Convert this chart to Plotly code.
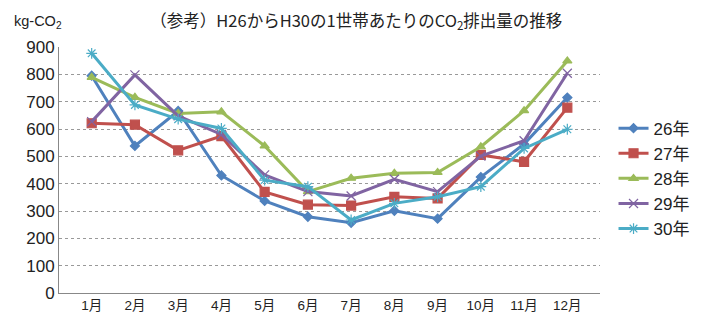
import plotly.graph_objects as go

months = ["1月", "2月", "3月", "4月", "5月", "6月", "7月", "8月", "9月", "10月", "11月", "12月"]
series_names = ["26年", "27年", "28年", "29年", "30年"]
h26 = [795, 538, 666, 430, 337, 279, 257, 301, 272, 424, 545, 715]
h27 = [621, 616, 522, 574, 370, 323, 320, 352, 346, 505, 480, 678]
h28 = [789, 716, 657, 663, 538, 371, 420, 438, 441, 535, 667, 849]
h29 = [627, 798, 648, 580, 432, 371, 355, 416, 371, 501, 557, 804]
h30 = [877, 688, 636, 602, 413, 389, 267, 328, 352, 389, 529, 599]
y_ticks = [0, 100, 200, 300, 400, 500, 600, 700, 800, 900]

colors = ["#4F81BD", "#C0504D", "#9BBB59", "#8064A2", "#4BACC6"]
symbols = ["diamond", "square", "triangle-up", "x-thin-open", "asterisk-open"]
sizes = [7, 9, 8, 9, 9]
all_vals = [h26, h27, h28, h29, h30]

FONT = "Noto Sans CJK JP"
NUMFONT = "Liberation Sans, Noto Sans CJK JP"
fig = go.Figure()
for i, (name, vals) in enumerate(zip(series_names, all_vals)):
    fig.add_trace(go.Scatter(
        x=months, y=vals, name=name, mode="lines+markers",
        line=dict(color=colors[i], width=3),
        marker=dict(symbol=symbols[i], size=sizes[i], color=colors[i],
                    line=dict(color=colors[i], width=1.2)),
    ))

fig.update_layout(
    width=707, height=327,
    margin=dict(l=59, r=104, t=47, b=34),
    paper_bgcolor="white", plot_bgcolor="white",
    font=dict(family=FONT, size=15, color="#222"),
    title=dict(text="（参考）H26からH30の1世帯あたりのCO<sub>2</sub>排出量の推移",
               x=0.504, xanchor="center", y=0.935, yanchor="middle",
               font=dict(size=16.5, family=FONT, color="#222")),
    showlegend=True,
    legend=dict(x=1.025, xanchor="left", y=0.465, yanchor="middle",
                font=dict(size=17, family=NUMFONT), tracegroupgap=0,
                bgcolor="rgba(0,0,0,0)"),
    annotations=[dict(text="kg-CO<sub>2</sub>", xref="paper", yref="paper",
                      x=-0.086, y=1.055, xanchor="left", yanchor="bottom",
                      showarrow=False, font=dict(size=14.5, family=NUMFONT))],
)
fig.update_xaxes(showgrid=False, showline=True, linecolor="#888", linewidth=1,
                 ticks="", tickfont=dict(size=13.5, family=NUMFONT), type="category")
fig.update_yaxes(range=[0, 900], tickvals=y_ticks, showgrid=True,
                 gridcolor="#999", griddash="dot", gridwidth=1,
                 showline=True, linecolor="#888", linewidth=1,
                 zeroline=False, ticks="", tickfont=dict(size=17, family=NUMFONT))
fig.write_html("out.html")
